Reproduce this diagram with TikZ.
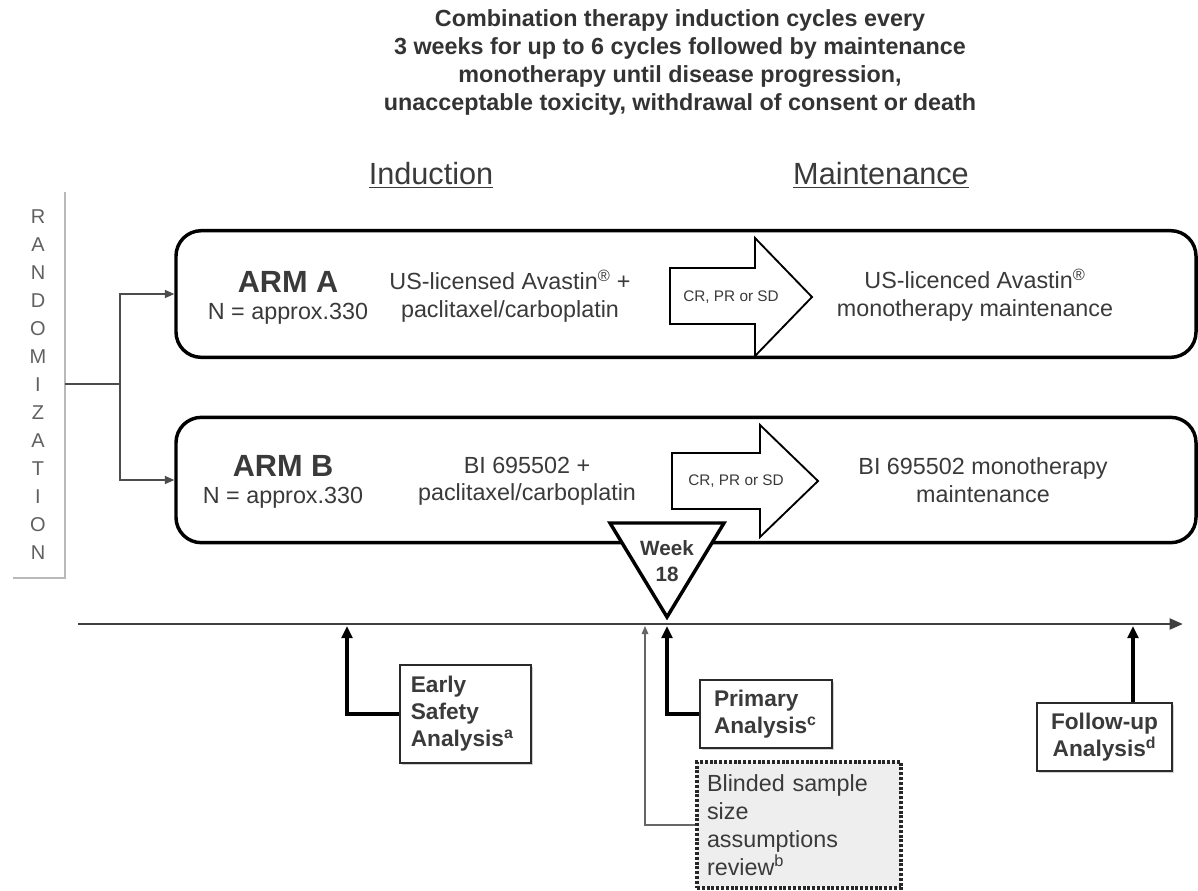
\documentclass[tikz,border=0pt]{standalone}
\usepackage{fontspec}
\setmainfont{Liberation Sans}
\usetikzlibrary{arrows.meta,shadows}
\definecolor{txt}{HTML}{3A3A3A}
\definecolor{edge}{HTML}{2A2A2A}
\begin{document}
\begin{tikzpicture}[x=0.75pt,y=-0.75pt,
  every node/.style={text=txt, inner sep=0pt},
  fs/.style={font=\fontsize{17.5}{20.5}\selectfont},
  fsb/.style={font=\fontsize{17}{20.3}\selectfont\bfseries},
  head/.style={font=\fontsize{23}{27}\selectfont},
  armbox/.style={draw=black, line width=2.6pt, rounded corners=19pt, fill=white},
  abox/.style={draw=edge, line width=2.2pt, fill=white, drop shadow={shadow xshift=1.5pt, shadow yshift=-1.5pt, fill=gray!45, opacity=0.8}},
  blk/.style={draw=black, line width=1.4pt, fill=white},
  thin/.style={draw=gray!80!black, line width=0.8pt, -{Triangle[length=6pt,width=5pt]}},
  thick/.style={draw=black, line width=3pt, -{Triangle[length=9pt,width=8pt]}},
]
\useasboundingbox (0,0) rectangle (1198,890);

% title
\node[font=\fontsize{17.5}{21}\selectfont\bfseries, align=center, text=black!80] (title) at (680,62)
 {Combination therapy induction cycles every\\3 weeks for up to 6 cycles followed by maintenance\\monotherapy until disease progression,\\unacceptable toxicity, withdrawal of consent or death};

\node[head] (ind) at (431,175) {\underline{Induction}};
\node[head] (mnt) at (881,175) {\underline{Maintenance}};

% randomization
\node[font=\fontsize{15}{21}\selectfont, align=center, text=gray!75!black] (rand) at (38,385)
 {R\\A\\N\\D\\O\\M\\I\\Z\\A\\T\\I\\O\\N};
\coordinate (rtop) at (65,192);
\coordinate (rbot) at (65,578);
\coordinate (rleft) at (13,578);
\draw[gray!55, line width=1pt] (rtop) -- (rbot) -- (rleft);
\coordinate (rmid) at (65,384);
\coordinate (br) at (120,384);

% arm boxes
\node[armbox, minimum width=765pt, minimum height=95pt] (armA) at (686,294) {};
\node[armbox, minimum width=765pt, minimum height=94pt] (armB) at (686,480) {};

\draw[gray!60!black, line width=0.9pt] (rmid) -- (br);
\draw[gray!60!black, line width=0.9pt, -{Triangle[length=7pt,width=6pt]}] (br) |- (armA.west);
\draw[gray!60!black, line width=0.9pt, -{Triangle[length=7pt,width=6pt]}] (br) |- (armB.west);

% ARM A contents
\node[font=\fontsize{23}{27}\selectfont\bfseries] (aT) at (288,282) {ARM A};
\node[fs] (aN) at (288,314) {N = approx.330};
\node[fs, align=center] (aD) at (510,296) {US-licensed Avastin\textsuperscript{®} +\\paclitaxel/carboplatin};
\draw[blk] (670,268) -- (755,268) -- (755,238) -- (812,297) -- (755,356) -- (755,324) -- (670,324) -- cycle;
\node[font=\fontsize{11.5}{14}\selectfont] (aR) at (731,297) {CR, PR or SD};
\node[fs, align=center] (aM) at (975,295) {US-licenced Avastin\textsuperscript{®}\\monotherapy maintenance};

% ARM B contents
\node[font=\fontsize{23}{27}\selectfont\bfseries] (bT) at (283,466) {ARM B};
\node[fs] (bN) at (283,498) {N = approx.330};
\node[fs, align=center] (bD) at (527,481) {BI 695502 +\\paclitaxel/carboplatin};
\draw[blk] (672,453) -- (760,453) -- (760,425) -- (818,481) -- (760,537) -- (760,509) -- (672,509) -- cycle;
\node[font=\fontsize{11.5}{14}\selectfont] (bR) at (736,481) {CR, PR or SD};
\node[fs, align=center] (bM) at (983,480) {BI 695502 monotherapy\\maintenance};

% timeline
\coordinate (t0) at (78,624);
\coordinate (t1) at (1183,624);
\draw[draw=black!75, line width=2.2pt, -{Triangle[length=10pt,width=8pt]}] (t0) -- (t1);

% week 18 triangle
\draw[draw=black, line width=2.6pt, fill=white, line join=miter] (610,523) -- (724,523) -- (667,617) -- cycle;
\node[font=\fontsize{15.5}{20}\selectfont\bfseries, align=center] (wk) at (667,561) {Week\\18};

% analysis boxes
\node[abox, fsb, minimum width=98.25pt, minimum height=73.5pt, text width=82pt, align=left] (early) at (465.5,714) {Early\\Safety\\Analysis\textsuperscript{a}};
\node[abox, fsb, minimum width=99pt, minimum height=51pt, text width=78pt, align=left] (prim) at (766,714) {Primary\\Analysis\textsuperscript{c}};
\node[draw=black!85, line width=2.4pt, dash pattern=on 2.2pt off 1.4pt, fill=gray!13, font=\fontsize{17.5}{21}\selectfont, minimum width=153pt, minimum height=94.5pt, text width=138pt, align=left] (blind) at (799,825) {Blinded sample\\size\\assumptions\\review\textsuperscript{b}};
\node[abox, fsb, minimum width=101.25pt, minimum height=51pt, align=center] (fu) at (1104.5,737) {Follow-up\\Analysis\textsuperscript{d}};

\coordinate (te) at (347,626);
\coordinate (tp) at (667,626);
\coordinate (tb) at (645,626);
\coordinate (tf) at (1133,626);
\draw[thick] (early.west) -| (te);
\draw[thick] (prim.west) -| (tp);
\draw[thin] (blind.west) -| (tb);
\draw[thick] (fu.north -| tf) -- (tf);
\end{tikzpicture}
\end{document}
